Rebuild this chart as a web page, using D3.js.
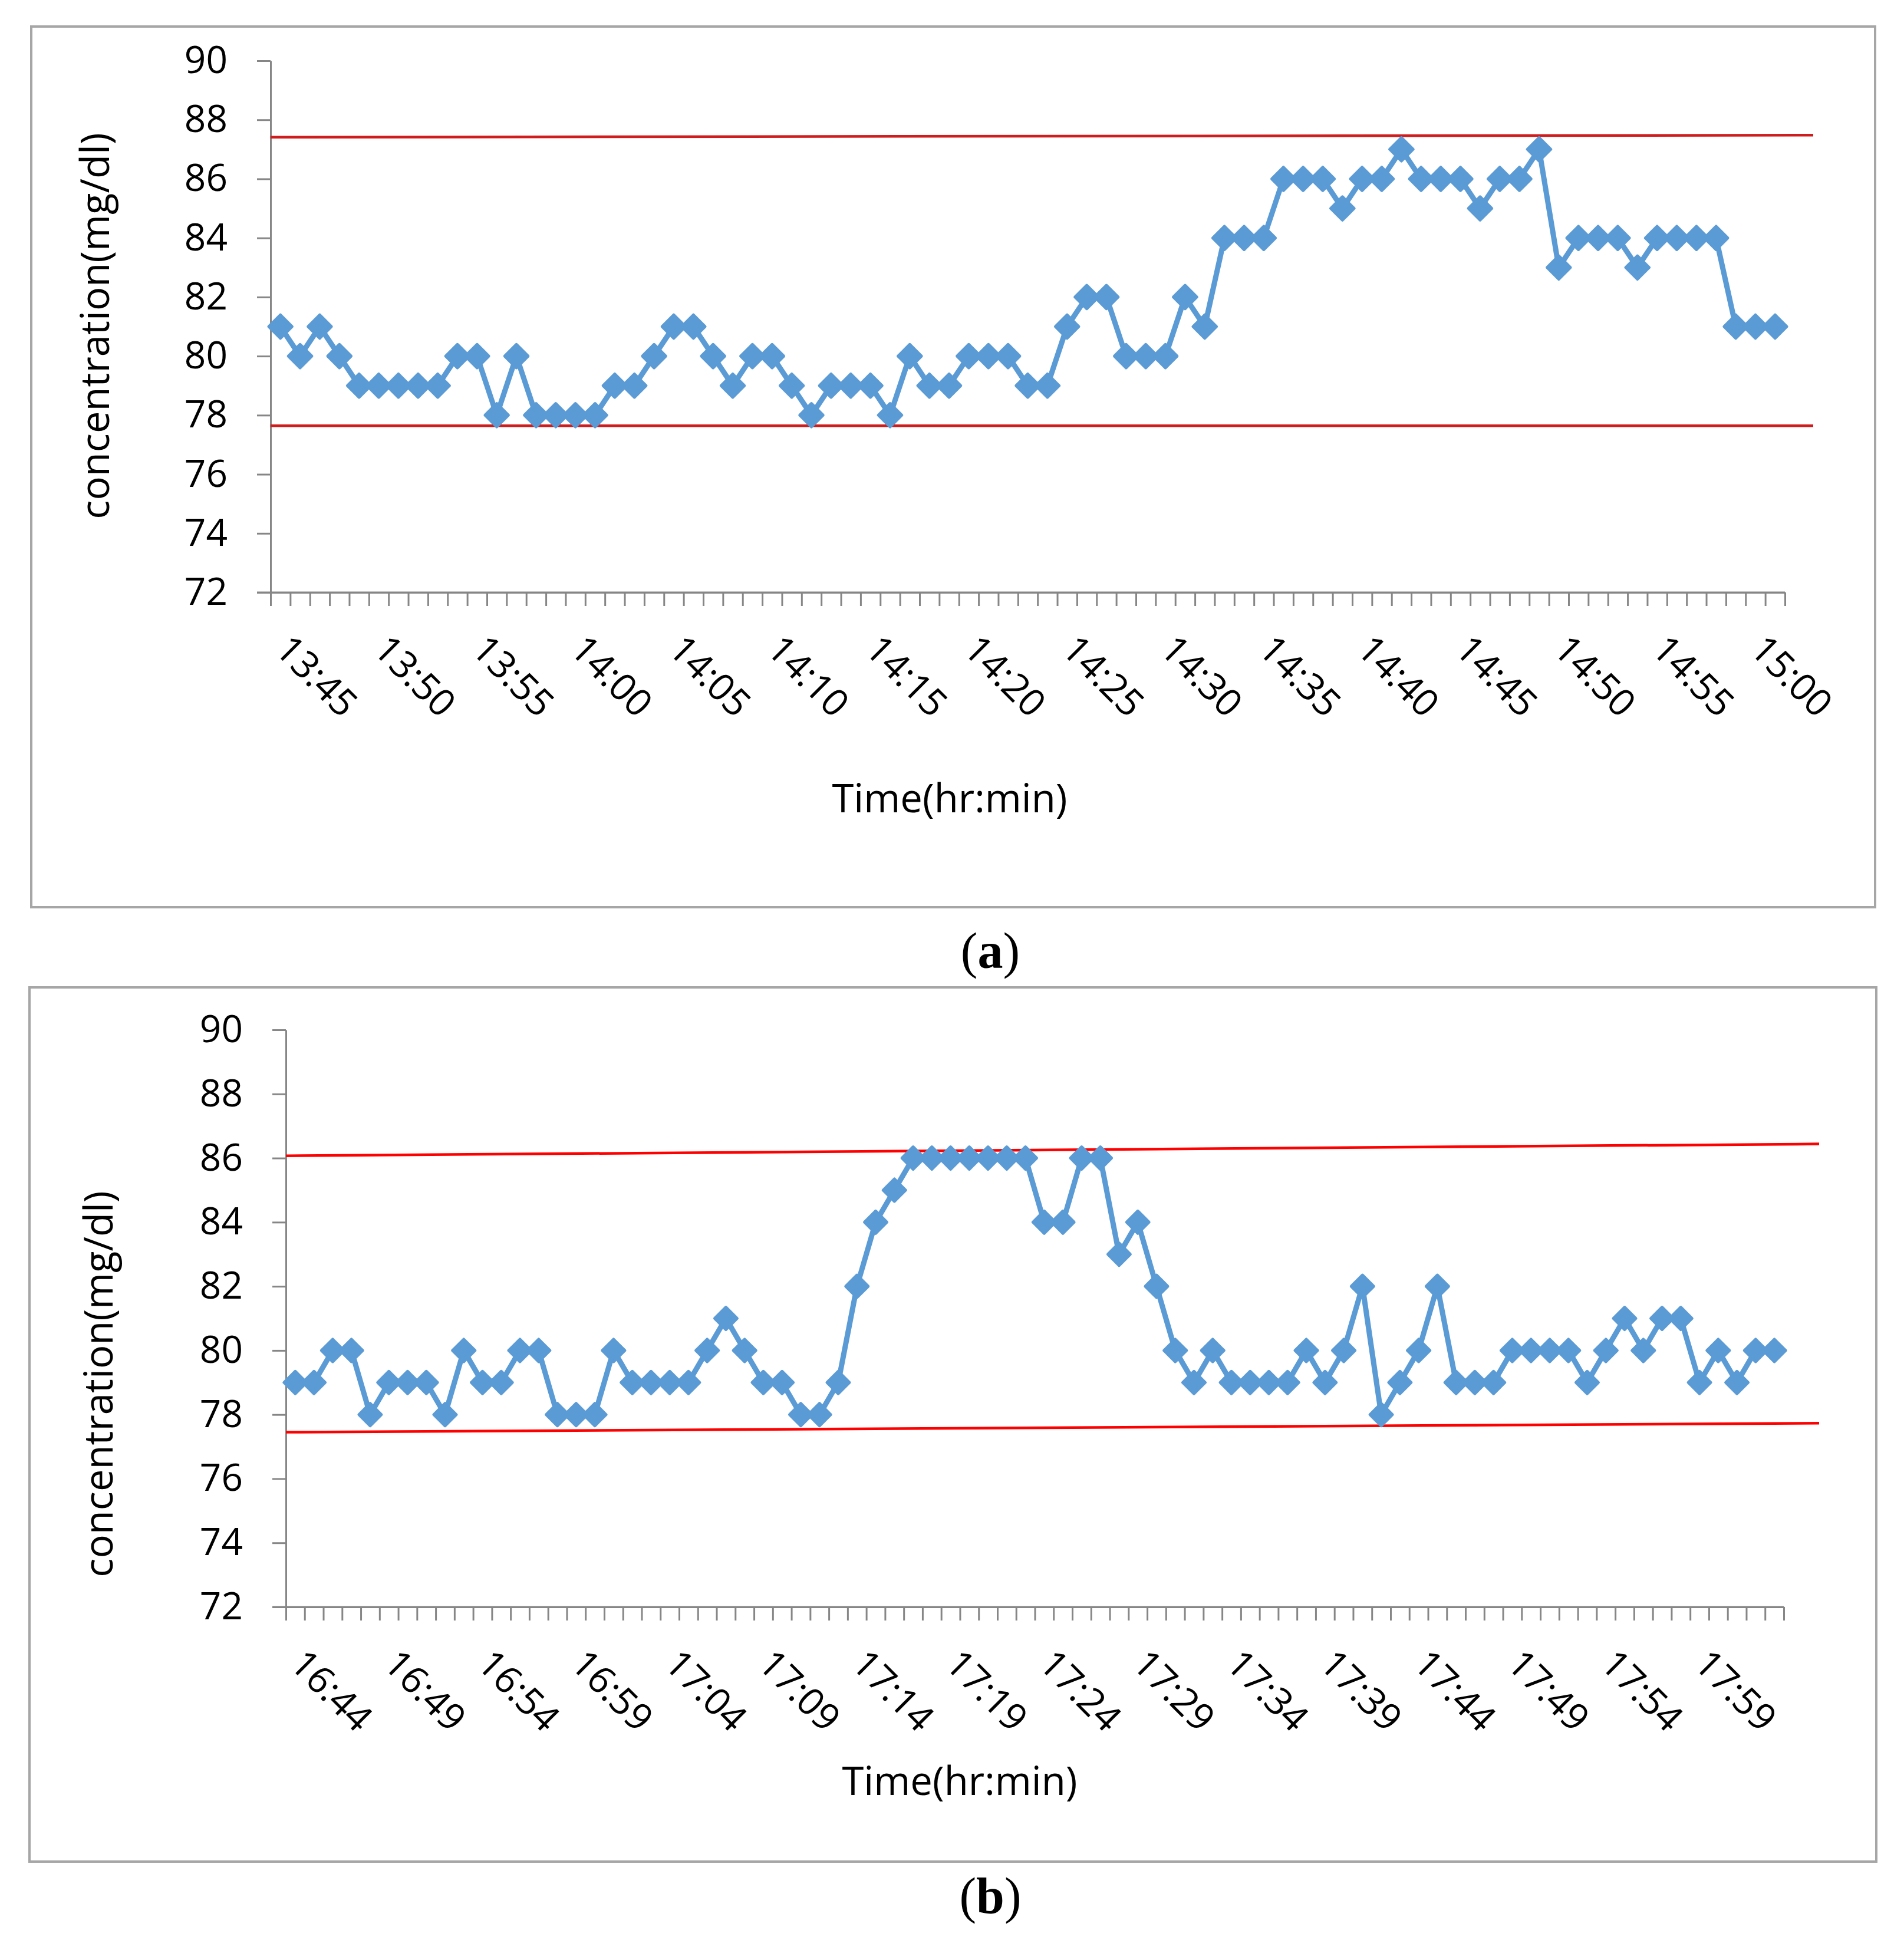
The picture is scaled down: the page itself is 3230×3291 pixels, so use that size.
<!DOCTYPE html>
<html>
<head>
<meta charset="utf-8">
<script src="https://cdn.jsdelivr.net/npm/d3@7"></script>
<style>
    body { margin: 0; background: #fff; }
    text { font-family: "Open Sans", sans-serif; fill: #000; }
</style>
</head>
<body>
<svg id="figure"></svg>
<script>

// panel (a) data
const concA = [81, 80, 81, 80, 79, 79, 79, 79, 79, 80,
    80, 78, 80, 78, 78, 78, 78, 79, 79, 80,
    81, 81, 80, 79, 80, 80, 79, 78, 79, 79,
    79, 78, 80, 79, 79, 80, 80, 80, 79, 79,
    81, 82, 82, 80, 80, 80, 82, 81, 84, 84,
    84, 86, 86, 86, 85, 86, 86, 87, 86, 86,
    86, 85, 86, 86, 87, 83, 84, 84, 84, 83,
    84, 84, 84, 84, 81, 81, 81];
const timeLabelsA = ["13:45", "13:50", "13:55", "14:00", "14:05", "14:10", "14:15", "14:20",
    "14:25", "14:30", "14:35", "14:40", "14:45", "14:50", "14:55", "15:00"];
const upperLimitA = [87.41, 87.48];
const lowerLimitA = [77.64, 77.64];

// panel (b) data
const concB = [79, 79, 80, 80, 78, 79, 79, 79, 78, 80,
    79, 79, 80, 80, 78, 78, 78, 80, 79, 79,
    79, 79, 80, 81, 80, 79, 79, 78, 78, 79,
    82, 84, 85, 86, 86, 86, 86, 86, 86, 86,
    84, 84, 86, 86, 83, 84, 82, 80, 79, 80,
    79, 79, 79, 79, 80, 79, 80, 82, 78, 79,
    80, 82, 79, 79, 79, 80, 80, 80, 80, 79,
    80, 81, 80, 81, 81, 79, 80, 79, 80, 80];
const timeLabelsB = ["16:44", "16:49", "16:54", "16:59", "17:04", "17:09", "17:14", "17:19",
    "17:24", "17:29", "17:34", "17:39", "17:44", "17:49", "17:54", "17:59"];
const upperLimitB = [86.07, 86.44];
const lowerLimitB = [77.45, 77.73];

const yTicks = [72, 74, 76, 78, 80, 82, 84, 86, 88, 90];
const labelEvery = 5;

class ControlChart {

    constructor (svg, layout, values, timeLabels, upper, lower) {

        this.svg = svg;
        this.layout = layout;
        this.values = values;
        this.timeLabels = timeLabels;
        this.upper = upper;
        this.lower = lower;

        // one band per minute, points sit in the middle of each band
        this.xScale = d3.scaleLinear()
            .domain([0, values.length])
            .range([layout.left, layout.right]);

        this.yScale = d3.scaleLinear()
            .domain([72, 90])
            .range([layout.bottom, layout.top]);

        this.g = svg.append("g");
        this.drawFrame();
        this.drawAxes();
        this.drawLimits();
        this.drawSeries();
    };

    drawFrame() {
        let l = this.layout;
        this.g.append("rect")
            .attr("x", l.frame[0])
            .attr("y", l.frame[1])
            .attr("width", l.frame[2])
            .attr("height", l.frame[3])
            .attr("fill", "none")
            .attr("stroke", "#a6a6a6")
            .attr("stroke-width", 4);

        this.g.append("text")
            .attr("x", l.caption[0])
            .attr("y", l.caption[1])
            .attr("text-anchor", "middle")
            .style("font-family", "'Liberation Serif', serif")
            .style("font-size", "86px")
            .html("(<tspan font-weight='bold'>" + l.name + "</tspan>)");
    }

    drawAxes() {
        let that = this;
        let l = this.layout;
        let n = this.values.length;

        // y axis
        let yAxis = d3.axisLeft(this.yScale)
            .tickValues(yTicks)
            .tickSize(23)
            .tickPadding(50)
            .tickSizeOuter(0);

        let yAxisG = this.g.append("g")
            .attr("transform", "translate(" + l.left + ",0)")
            .call(yAxis);

        yAxisG.selectAll("text")
            .style("font-size", "64px")
            .style("font-family", "'Open Sans', sans-serif");

        // x axis, ticks between categories
        let xAxis = d3.axisBottom(this.xScale)
            .tickValues(d3.range(n + 1))
            .tickSize(23)
            .tickSizeOuter(0)
            .tickFormat("");

        this.g.append("g")
            .attr("transform", "translate(0," + l.bottom + ")")
            .call(xAxis);

        // x axis line runs under the 72 tick as well
        this.g.append("line")
            .attr("x1", l.left - 23)
            .attr("x2", l.right)
            .attr("y1", l.bottom)
            .attr("y2", l.bottom);

        this.g.selectAll(".domain, .tick line, line")
            .attr("stroke", "#868686")
            .attr("stroke-width", 3);

        // rotated time labels every 5 minutes
        this.g.selectAll(".timeLabel")
            .data(this.timeLabels)
            .enter()
            .append("text")
            .attr("class", "timeLabel")
            .attr("transform", function (d, i) {
                let cx = that.xScale(i * labelEvery + 0.5);
                return "translate(" + (cx - 12) + "," + (l.bottom + 100) + ") rotate(45)";
            })
            .style("font-size", "64px")
            .text(d => d);

        this.g.append("text")
            .attr("x", l.xTitle[0])
            .attr("y", l.xTitle[1])
            .attr("text-anchor", "middle")
            .style("font-size", "67px")
            .text("Time(hr:min)");

        this.g.append("text")
            .attr("transform", "translate(" + l.yTitle[0] + "," + l.yTitle[1] + ") rotate(-90)")
            .attr("text-anchor", "middle")
            .attr("dy", "0.35em")
            .style("font-size", "67px")
            .text("concentration(mg/dl)");
    }

    drawLimits() {
        let that = this;
        let l = this.layout;
        [this.upper, this.lower].forEach(function (lim) {
            that.g.append("line")
                .attr("x1", l.left)
                .attr("x2", l.right + l.limitOverhang)
                .attr("y1", that.yScale(lim[0]))
                .attr("y2", that.yScale(lim[1]))
                .attr("stroke", l.limitColor)
                .attr("stroke-width", 4.5);
        });
    }

    drawSeries() {
        let that = this;
        let l = this.layout;

        let lineGenerator = d3.line()
            .x((d, i) => that.xScale(i + 0.5))
            .y(d => that.yScale(d));

        this.g.append("path")
            .attr("d", lineGenerator(this.values))
            .attr("fill", "none")
            .attr("stroke", "#5b9bd5")
            .attr("stroke-width", 9)
            .attr("stroke-linejoin", "round");

        let diamond = d3.symbol().type(d3.symbolSquare).size(l.markerSize);

        this.g.selectAll(".node")
            .data(this.values)
            .enter()
            .append("path")
            .attr("class", "node")
            .attr("d", diamond)
            .attr("transform", function (d, i) {
                return "translate(" + that.xScale(i + 0.5) + "," + that.yScale(d) + ") rotate(45)";
            })
            .attr("fill", "#5b9bd5")
            .attr("stroke", "#5b9bd5")
            .attr("stroke-width", 5)
            .attr("stroke-linejoin", "round");
    }
}

let svg = d3.select("#figure")
    .attr("width", 3230)
    .attr("height", 3291);

svg.append("rect")
    .attr("width", 3230)
    .attr("height", 3291)
    .attr("fill", "#fff");

new ControlChart(svg, {
    name: "a",
    left: 459, right: 3028, top: 103, bottom: 1005,
    frame: [53, 45, 3128, 1494],
    caption: [1680, 1642],
    xTitle: [1611, 1378],
    yTitle: [162, 553],
    limitOverhang: 48,
    limitColor: "#d01c1c",
    markerSize: 780
}, concA, timeLabelsA, upperLimitA, lowerLimitA);

new ControlChart(svg, {
    name: "b",
    left: 485, right: 3026, top: 1747, bottom: 2726,
    frame: [50, 1675, 3133, 1483],
    caption: [1680, 3245],
    xTitle: [1628, 3045],
    yTitle: [168, 2348],
    limitOverhang: 60,
    limitColor: "#ff0000",
    markerSize: 720
}, concB, timeLabelsB, upperLimitB, lowerLimitB);

</script>
</body>
</html>
